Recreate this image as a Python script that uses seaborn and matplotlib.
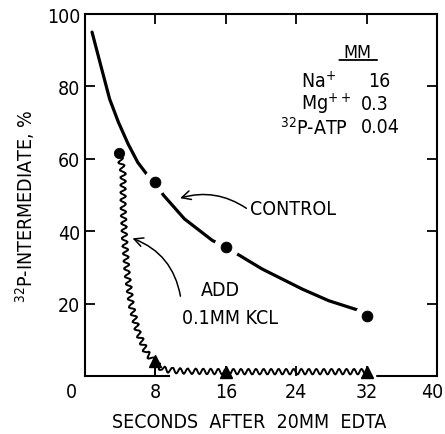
import matplotlib
matplotlib.use("Agg")
import matplotlib.pyplot as plt
import matplotlib.transforms as mtransforms
from matplotlib import font_manager as fm
import seaborn as sns

# ---- data ----
control_curve_x = [0.8, 1.9, 2.8, 3.8, 4.9, 6.0, 7.0, 8.0, 8.9, 11.3, 14.5, 16.0,
                   17.1, 20.1, 24.7, 27.7, 30.9, 32.0]
control_curve_y = [95.0, 84.8, 76.5, 70.1, 64.1, 59.0, 55.8, 53.5, 50.0, 43.4, 37.4, 35.7,
                   34.0, 29.6, 24.0, 20.8, 18.3, 16.5]
control_pts_x = [8, 16, 32]
control_pts_y = [53.5, 35.7, 16.5]

kcl_curve_x = [3.88, 4.33, 4.33, 4.5, 4.78, 5.27, 6.03, 6.97, 7.9, 8.8, 10, 12, 16, 20, 24, 28, 32]
kcl_curve_y = [61.6, 56.3, 47.0, 37.8, 28.6, 19.4, 12.0, 6.5, 3.8, 1.9, 1.5, 1.3, 1.2, 1.2, 1.2, 1.2, 1.2]
kcl_start_x = [3.88]
kcl_start_y = [61.6]
kcl_tri_x = [8, 16, 32]
kcl_tri_y = [4.2, 1.0, 1.2]

x_ticks = [0, 8, 16, 24, 32, 40]
y_ticks = [20, 40, 60, 80, 100]

table_names = ["Na$^{+}$", "Mg$^{++}$", "$^{32}$P-ATP"]
table_values = ["16", "0.3", "0.04"]

sns.set_theme(style="white")

# pick a narrow sans face if one is installed
family, stretch, FS = "Liberation Sans", "normal", 13
narrow = []
for f in fm.fontManager.ttflist:
    st = str(f.stretch)
    if ("Narrow" in f.name or "Condensed" in f.name or st in ("condensed", "semi-condensed")) \
            and f.style == "normal":
        narrow.append(f)
pref = ["Liberation Sans Narrow", "DejaVu Sans", "Roboto Condensed", "Noto Sans",
        "Open Sans", "Noto Sans Condensed"]
for p in pref:
    hit = [f for f in narrow if f.name == p]
    if hit:
        family, stretch, FS = p, str(hit[0].stretch), 14
        break
else:
    if narrow:
        family, stretch, FS = narrow[0].name, str(narrow[0].stretch), 14

plt.rcParams["font.family"] = [family, "DejaVu Sans"]
plt.rcParams["font.stretch"] = stretch
plt.rcParams["mathtext.fontset"] = "custom"
plt.rcParams["mathtext.rm"] = family
plt.rcParams["mathtext.it"] = family
plt.rcParams["mathtext.bf"] = family

fig = plt.figure(figsize=(4.45, 4.35), dpi=100)
ax = fig.add_axes([0.191, 0.1333, 0.791, 0.8322])

# control curve
sns.lineplot(x=control_curve_x, y=control_curve_y, sort=False, estimator=None,
             color="black", lw=2.3, ax=ax, zorder=2)
ax.plot(control_pts_x, control_pts_y, "o", ms=17, color="white", mec="white", zorder=3)
sns.scatterplot(x=control_pts_x, y=control_pts_y, s=60, color="black",
                edgecolor="black", ax=ax, zorder=4)

# KCl wavy curve
sns.lineplot(x=kcl_curve_x, y=kcl_curve_y, sort=False, estimator=None,
             color="black", lw=1.4, ax=ax, zorder=2)
wave = ax.lines[-1]
wave.set_sketch_params(scale=2.8, length=7.5, randomness=1.0)
sns.scatterplot(x=kcl_start_x, y=kcl_start_y, s=55, color="black",
                edgecolor="black", ax=ax, zorder=4)
ax.plot(kcl_tri_x, kcl_tri_y, "^", ms=8, color="black", zorder=4, clip_on=False)
ax.vlines(kcl_tri_x[0], 0, kcl_tri_y[0], color="black", lw=1.3, zorder=3)

# axes
ax.set_xlim(0, 40)
ax.set_ylim(0, 100)
ax.set_xticks(x_ticks)
ax.set_xticklabels([str(v) for v in x_ticks])
ax.set_yticks(y_ticks)
ax.set_yticklabels([str(v) for v in y_ticks])
ax.tick_params(direction="in", length=7, width=1.3, colors="black",
               labelsize=FS, top=True, right=True, left=True, bottom=True)
ax.tick_params(axis="x", pad=4)
ax.tick_params(axis="y", pad=3.5)
lbl0 = ax.get_xticklabels()[0]
lbl0.set_transform(lbl0.get_transform() +
                   mtransforms.ScaledTranslation(-14 / 100, 0, fig.dpi_scale_trans))
lbl40 = ax.get_xticklabels()[-1]
lbl40.set_transform(lbl40.get_transform() +
                    mtransforms.ScaledTranslation(-5 / 100, 0, fig.dpi_scale_trans))

for s in ax.spines.values():
    s.set_color("black")
    s.set_linewidth(1.5)
ax.spines["bottom"].set_bounds(0, 9.6)
ax.axhline(0, xmin=33.2 / 40, xmax=1, color="black", lw=1.5, clip_on=False)
ax.grid(False)

ax.set_xlabel("SECONDS  AFTER  20MM  EDTA", fontsize=FS, color="black")
ax.xaxis.set_label_coords(0.466, -0.127)
ax.xaxis.label.set_va("center")
ax.set_ylabel("$^{32}$P-INTERMEDIATE, %", fontsize=FS, color="black")
ax.yaxis.set_label_coords(-0.169, 0.472)
ax.yaxis.label.set_va("center")

# annotations
ax.text(18.8, 46.4, "CONTROL", fontsize=FS, ha="left", va="center", color="black")
ax.annotate("", xy=(10.5, 48.9), xytext=(18.6, 45.9),
            arrowprops=dict(arrowstyle="->", lw=1.1, color="black",
                            mutation_scale=16, connectionstyle="arc3,rad=0.25"))
ax.text(15.4, 24.0, "ADD", fontsize=FS, ha="center", va="center", color="black")
ax.text(16.5, 16.3, "0.1MM KCL", fontsize=FS, ha="center", va="center", color="black")
ax.annotate("", xy=(5.1, 38.3), xytext=(10.9, 21.3),
            arrowprops=dict(arrowstyle="->", lw=1.1, color="black",
                            mutation_scale=16, connectionstyle="arc3,rad=0.3"))

# table
ax.text(31.0, 89.5, "MM", fontsize=FS - 1, ha="center", va="center", color="black")
ax.annotate("", xy=(28.9, 87.3), xytext=(33.2, 87.3),
            arrowprops=dict(arrowstyle="-", lw=1.3, color="black",
                            shrinkA=0, shrinkB=0))
name_x = [24.5, 24.5, 29.9]
name_ha = ["left", "left", "right"]
row_y = [81.6, 75.2, 68.8]
val_x = [32.2, 31.4, 31.4]
for i in range(3):
    ax.text(name_x[i], row_y[i], table_names[i], fontsize=FS, ha=name_ha[i],
            va="center", color="black")
    ax.text(val_x[i], row_y[i], table_values[i], fontsize=FS, ha="left",
            va="center", color="black")

fig.savefig("out.png", dpi=100)
